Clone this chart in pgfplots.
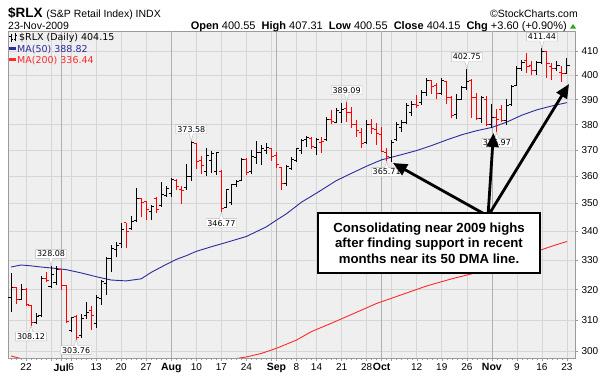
\documentclass[border=0pt]{standalone}
\usepackage{pgfplots}
\pgfplotsset{compat=1.18}
\usepackage{pgfplotstable}
\usepackage{fontspec}
\setmainfont{Liberation Sans}
\newfontfamily\dejavu{DejaVu Sans}
\usetikzlibrary{arrows.meta,shapes.callouts}
\definecolor{plotbg}{HTML}{EFEFEF}
\definecolor{gridc}{HTML}{D6D6D6}
\definecolor{monthc}{HTML}{B0B0B0}
\definecolor{borderc}{HTML}{9A9A9A}
\definecolor{barred}{HTML}{FF0000}
\definecolor{mablue}{HTML}{2B2B9C}
\definecolor{mared}{HTML}{FF2A2A}
\definecolor{upgreen}{HTML}{22AA22}

\pgfdeclareplotmark{otick}{\pgfpathmoveto{\pgfqpoint{-2.6pt}{0pt}}\pgfpathlineto{\pgfqpoint{0pt}{0pt}}\pgfusepathqstroke}
\pgfdeclareplotmark{ctick}{\pgfpathmoveto{\pgfqpoint{0pt}{0pt}}\pgfpathlineto{\pgfqpoint{2.6pt}{0pt}}\pgfusepathqstroke}

\pgfplotstableread{
x o h l c
-3 317.5 325.5 312.7 320.7
-1 316.8 321.7 316.4 320.1
2 309.1 312.2 308.8 311.1
3 311.6 324.4 311.1 323.8
5 321.0 328.08 320.4 325.0
6 322.5 327.8 321.5 326.8
9 306.5 311.1 306.2 310.9
11 305.0 312.0 304.1 310.5
12 311.5 316.0 310.5 312.5
14 309.0 318.2 307.5 317.5
15 317.0 323.2 315.0 322.6
16 322.0 331.1 318.2 330.5
17 330.5 335.2 326.0 334.0
18 333.5 336.3 331.1 335.2
19 335.8 342.9 334.0 340.5
21 341.0 345.3 340.5 343.5
22 344.0 355.6 343.5 352.0
25 347.1 349.4 344.1 348.9
27 349.2 357.9 348.9 353.4
28 353.0 356.4 352.3 355.7
29 353.5 359.3 352.3 358.8
32 356.0 364.6 354.9 360.0
33 360.0 373.58 358.4 372.8
36 362.0 370.7 360.0 367.8
37 366.0 369.8 361.5 368.6
38 362.0 369.2 360.5 369.0
40 348.5 355.3 348.2 355.0
41 350.5 357.3 349.5 356.8
42 357.0 358.7 356.2 358.3
43 358.5 366.9 358.3 366.5
45 362.0 370.0 361.1 367.5
46 367.0 373.7 364.8 369.0
47 369.0 372.0 364.5 370.7
48 370.0 372.8 368.4 371.0
52 357.5 364.3 356.6 363.8
53 363.0 367.3 362.5 366.5
54 366.0 371.0 365.6 370.5
55 370.0 374.4 368.5 373.9
56 374.0 375.7 371.3 374.8
58 371.0 374.8 368.1 374.0
60 374.0 382.9 373.5 382.0
62 381.0 386.5 380.6 385.5
63 385.0 388.5 380.6 386.0
68 373.0 381.8 372.6 380.0
73 367.0 374.0 365.6 373.0
74 374.0 381.2 373.5 380.0
75 379.0 381.8 377.1 380.8
76 381.0 388.5 380.2 387.5
77 385.0 389.5 383.4 388.0
79 389.0 394.0 388.0 393.0
80 393.0 398.8 391.6 398.0
83 392.5 398.8 392.0 398.0
86 384.0 392.3 382.3 390.0
87 390.0 395.5 389.8 395.0
88 395.0 402.75 394.1 397.5
91 382.5 391.6 380.6 391.0
93 380.0 388.1 378.8 383.0
96 381.5 390.2 379.9 387.5
97 388.0 396.1 387.4 395.5
98 396.0 403.8 395.8 403.0
99 403.0 406.6 401.7 405.5
102 402.0 405.9 400.3 405.5
103 405.5 411.44 404.8 410.2
106 403.0 405.9 401.7 404.0
108 400.55 407.31 400.55 404.15
}\blackbars

\pgfplotstableread{
x o h l c
-2 320.7 320.9 315.2 316.6
0 320.1 320.4 314.6 315.0
1 314.6 315.0 308.12 309.1
4 323.8 326.0 322.5 323.0
7 326.8 326.8 319.9 321.4
8 321.4 321.4 309.0 309.4
10 311.0 311.6 303.76 304.5
13 313.0 314.5 306.9 311.5
20 343.0 343.1 334.0 339.9
23 352.0 352.0 345.1 350.3
24 350.8 350.8 344.2 347.7
26 351.7 352.3 346.5 347.8
30 358.5 358.9 354.9 356.4
31 355.0 356.4 350.0 354.9
34 372.5 372.7 362.8 365.6
35 366.0 367.8 361.1 364.1
39 362.0 362.5 346.77 348.2
44 366.5 367.0 360.5 361.5
49 370.5 370.7 366.0 367.5
50 368.0 369.2 363.3 364.6
51 363.5 363.7 354.9 357.3
57 374.5 375.3 370.3 371.5
59 373.0 375.3 369.0 373.5
61 382.0 385.8 380.2 381.3
64 386.5 389.09 381.0 385.0
65 385.0 387.2 378.5 380.2
66 380.0 381.8 375.1 377.5
67 377.0 378.5 371.0 372.5
69 380.0 382.1 376.1 378.5
70 378.0 380.7 371.9 376.5
71 376.0 379.1 369.3 369.6
72 369.0 370.7 365.71 367.5
78 388.0 392.1 386.5 387.6
81 398.0 398.1 392.3 395.5
82 396.0 396.8 390.2 392.5
84 397.5 397.7 388.1 391.0
85 391.0 391.6 382.6 383.5
89 398.0 398.5 382.6 391.0
90 391.0 392.8 381.9 382.3
92 390.0 391.6 379.3 380.0
94 383.0 386.2 376.97 382.0
95 386.0 387.8 381.3 381.6
100 406.0 409.4 401.0 403.5
101 404.0 405.9 400.3 402.0
104 410.0 410.2 398.8 405.0
105 403.5 405.2 398.1 403.0
107 401.0 403.8 397.2 400.55
}\redbars

\tikzset{pl/.style={rectangle callout, draw=gray!55, fill=white, font=\dejavu\fontsize{8}{9}\selectfont, inner sep=1.4pt, callout pointer width=4pt}}

\begin{document}
\begin{tikzpicture}
\path[use as bounding box] (0,0) rectangle (600pt,376pt);
\begin{axis}[
  at={(8pt,18pt)}, anchor=south west,
  scale only axis, width=567pt, height=327pt,
  xmin=-3.6, xmax=109.6,
  ymode=log, ymin=298, ymax=418.9,
  axis background/.style={fill=plotbg},
  axis line style={draw=borderc},
  every tick/.style={borderc},
  ytick={300,310,320,330,340,350,360,370,380,390,400,410},
  yticklabels={300,310,320,330,340,350,360,370,380,390,400,410},
  yticklabel pos=right, ytick pos=right,
  xtick={0,5,9,14,19,24,34,39,44,49,54,58,63,68,73,78,83,88,98,103,108},
  xticklabels={22,,6,13,20,27,10,17,24,,8,14,21,28,,12,19,26,9,16,23},
  xtick pos=bottom,
  minor xtick={-3,-2,...,108},
  tick align=outside, major tick length=3pt, minor tick length=2pt,
  grid=major, major grid style={gridc, line width=0.6pt},
  ticklabel style={font=\fontsize{10}{10}\selectfont, text=black},
  extra x ticks={7,29,50,71,93},
  extra x tick labels={Jul,Aug,Sep,Oct,Nov},
  extra x tick style={major grid style={monthc, line width=0.7pt}, ticklabel style={font=\bfseries\fontsize{10.5}{10}\selectfont}},
  xticklabel style={yshift=1pt},
]
% MA(200)
\addplot[mared, line width=0.9pt, mark=none] coordinates {
(-3,298.6) (-2,298.2) (0,297.4) (5,296.3) (10,295.4) (15,295.0) (20,294.9) (25,295.1) (30,295.5) (35,296.2) (40,297.3) (44,298.3) (47,299.4) (50,301.0) (54,303.6) (57,306.3) (61,309.0) (65,311.8) (70,315.4) (75,318.3) (80,321.2) (85,323.6) (89,325.3) (93,327.5) (97,329.7) (102,333.0) (105,334.8) (108,336.44)};
% MA(50)
\addplot[mablue, line width=0.9pt, mark=none] coordinates {
(-3,327.6) (-1,328.3) (1,328.0) (3,327.6) (5,327.3) (8,326.7) (11,325.6) (14,324.3) (17,323.2) (20,322.9) (23,323.6) (25,325.8) (28,328.5) (30,330.2) (32,331.5) (34,333.0) (37,334.6) (40,336.1) (44,338.2) (48,341.6) (50,344.0) (52,346.3) (55,350.5) (58,353.8) (62,358.5) (65,361.2) (68,363.9) (71,366.3) (75,368.3) (78,369.9) (81,371.8) (84,374.0) (87,376.0) (90,377.6) (93,378.9) (96,381.0) (99,383.8) (102,385.9) (105,387.5) (108,388.82)};
% black bars
\addplot[black, only marks, mark=ctick, mark options={line width=1pt},
  error bars/.cd, y dir=both, y explicit, error mark=none, error bar style={line width=1pt, black}]
  table[x=x, y=c, y error plus expr=\thisrow{h}-\thisrow{c}, y error minus expr=\thisrow{c}-\thisrow{l}] {\blackbars};
\addplot[black, only marks, mark=otick, mark options={line width=1pt}] table[x=x, y=o] {\blackbars};
% red bars
\addplot[barred, only marks, mark=ctick, mark options={line width=1pt},
  error bars/.cd, y dir=both, y explicit, error mark=none, error bar style={line width=1pt, barred}]
  table[x=x, y=c, y error plus expr=\thisrow{h}-\thisrow{c}, y error minus expr=\thisrow{c}-\thisrow{l}] {\redbars};
\addplot[barred, only marks, mark=otick, mark options={line width=1pt}] table[x=x, y=o] {\redbars};
% price labels
\node[pl, anchor=south, yshift=7pt, callout absolute pointer={(axis cs:5,328.08)}] at (axis cs:5,328.08) {328.08};
\node[pl, anchor=south, yshift=7pt, callout absolute pointer={(axis cs:33,373.58)}] at (axis cs:33,373.58) {373.58};
\node[pl, anchor=south, yshift=7pt, callout absolute pointer={(axis cs:64,389.09)}] at (axis cs:64,389.09) {389.09};
\node[pl, anchor=south, yshift=7pt, callout absolute pointer={(axis cs:88,402.75)}] at (axis cs:88,402.75) {402.75};
\node[pl, anchor=south, yshift=7pt, callout absolute pointer={(axis cs:103,411.44)}] at (axis cs:103,411.44) {411.44};
\node[pl, anchor=north, yshift=-6pt, callout absolute pointer={(axis cs:1,308.12)}] at (axis cs:1,308.12) {308.12};
\node[pl, anchor=north, yshift=-6pt, callout absolute pointer={(axis cs:10,303.76)}] at (axis cs:10,303.76) {303.76};
\node[pl, anchor=north, yshift=-6pt, callout absolute pointer={(axis cs:39,346.77)}] at (axis cs:39,346.77) {346.77};
\node[pl, anchor=north, yshift=-6pt, callout absolute pointer={(axis cs:72,365.71)}] at (axis cs:72,365.71) {365.71};
\node[pl, anchor=north, yshift=-6pt, callout absolute pointer={(axis cs:94,376.97)}] at (axis cs:94,376.97) {376.97};
\end{axis}
% header
\node[anchor=base west, inner sep=0pt] at (8pt,359pt) {\fontsize{13.5}{14}\selectfont\bfseries \$RLX\ \mdseries\fontsize{10.5}{11}\selectfont (S\&P Retail Index) INDX};
\node[anchor=base east, inner sep=0pt] at (578pt,359pt) {\fontsize{10.5}{11}\selectfont\textcopyright StockCharts.com};
\node[anchor=base west, inner sep=0pt] at (8pt,347pt) {\fontsize{10.5}{11}\selectfont 23-Nov-2009};
\node[anchor=base east, inner sep=0pt] at (567pt,347pt) {\fontsize{11}{11}\selectfont\textbf{Open} 400.55\ \ \textbf{High} 407.31\ \ \textbf{Low} 400.55\ \ \textbf{Close} 404.15\ \ \textbf{Chg} +3.60 (+0.90\%)};
\fill[upgreen] (570pt,347.5pt) -- (576pt,347.5pt) -- (573pt,352pt) -- cycle;
% legend
\draw[black, line width=0.8pt] (11pt,334.5pt) -- (11pt,342pt) (9pt,340pt) -- (11pt,340pt) (11pt,336.5pt) -- (13pt,336.5pt);
\draw[black, line width=0.8pt] (15pt,335.5pt) -- (15pt,343pt) (13.5pt,337pt) -- (15pt,337pt) (15pt,341pt) -- (16.8pt,341pt);
\node[anchor=base west, inner sep=0pt] at (19pt,335.5pt) {\dejavu\fontsize{9.5}{10}\selectfont \$RLX (Daily) 404.15};
\draw[mablue, line width=2.2pt] (9pt,327.5pt) -- (16pt,327.5pt);
\node[anchor=base west, inner sep=0pt, text=mablue] at (17pt,324pt) {\dejavu\fontsize{9.5}{10}\selectfont MA(50) 388.82};
\draw[mared, line width=2.2pt] (9pt,316.5pt) -- (16pt,316.5pt);
\node[anchor=base west, inner sep=0pt, text=mared] at (17pt,313pt) {\dejavu\fontsize{9.5}{10}\selectfont MA(200) 336.44};
% arrows
\draw[line width=2.8pt, -{Triangle[length=14pt,width=12pt]}] (488pt,160pt) -- (393pt,213pt);
\draw[line width=2.8pt, -{Triangle[length=14pt,width=12pt]}] (488pt,160pt) -- (493.5pt,243pt);
\draw[line width=2.8pt, -{Triangle[length=14pt,width=12pt]}] (488pt,160pt) -- (569pt,292pt);
% comment box
\node[draw=black, line width=2pt, fill=white, minimum width=222pt, minimum height=60pt, align=center, inner sep=0pt, font=\bfseries\fontsize{13.2}{15.6}\selectfont] at (429pt,133pt) {Consolidating near 2009 highs\\after finding support in recent\\months near its 50 DMA line.};
\end{tikzpicture}
\end{document}
